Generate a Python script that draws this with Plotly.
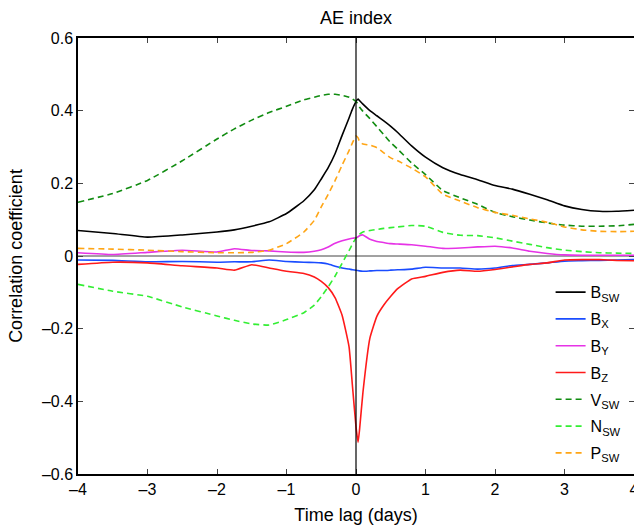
import plotly.graph_objects as go

lag = [-4, -3.5, -3, -2.5, -2, -1.75, -1.5, -1.25, -1, -0.75, -0.6, -0.5, -0.4, -0.3, -0.2,
       -0.1, -0.05, 0, 0.03, 0.05, 0.1, 0.2, 0.3, 0.4, 0.5, 0.6, 0.8, 1, 1.25, 1.5, 1.75, 2,
       2.25, 2.5, 2.75, 3, 3.25, 3.5, 3.75, 4]

b_sw = [0.070, 0.062, 0.052, 0.058, 0.066, 0.072, 0.082, 0.094, 0.117, 0.152, 0.182, 0.212,
        0.243, 0.282, 0.332, 0.380, 0.405, 0.425, 0.432, 0.428, 0.418, 0.400, 0.386, 0.372,
        0.357, 0.340, 0.303, 0.272, 0.243, 0.224, 0.210, 0.194, 0.184, 0.170, 0.155, 0.138,
        0.128, 0.123, 0.123, 0.126]
b_x = [-0.011, -0.012, -0.016, -0.015, -0.017, -0.016, -0.016, -0.011, -0.015, -0.017, -0.018,
       -0.019, -0.022, -0.028, -0.033, -0.036, -0.038, -0.039, -0.040, -0.041, -0.042, -0.041,
       -0.040, -0.040, -0.039, -0.038, -0.036, -0.031, -0.033, -0.033, -0.036, -0.033, -0.026,
       -0.023, -0.019, -0.014, -0.013, -0.012, -0.011, -0.010]
b_y = [0.009, 0.004, 0.010, 0.016, 0.011, 0.020, 0.015, 0.014, 0.011, 0.010, 0.013, 0.017,
       0.025, 0.035, 0.042, 0.047, 0.049, 0.050, 0.053, 0.056, 0.058, 0.046, 0.040, 0.037,
       0.034, 0.033, 0.031, 0.027, 0.021, 0.022, 0.025, 0.027, 0.022, 0.013, 0.007, 0.003,
       0.002, 0.002, 0.002, 0.002]
b_z = [-0.023, -0.017, -0.019, -0.027, -0.033, -0.039, -0.024, -0.033, -0.042, -0.048, -0.058,
       -0.070, -0.087, -0.115, -0.163, -0.250, -0.360, -0.470, -0.513, -0.480, -0.375, -0.226,
       -0.166, -0.135, -0.111, -0.090, -0.063, -0.056, -0.045, -0.039, -0.042, -0.037, -0.030,
       -0.023, -0.019, -0.011, -0.010, -0.010, -0.012, -0.013]
v_sw = [0.148, 0.172, 0.208, 0.262, 0.322, 0.350, 0.374, 0.395, 0.412, 0.430, 0.437, 0.442,
        0.445, 0.445, 0.442, 0.437, 0.432, 0.425, 0.418, 0.410, 0.398, 0.378, 0.356, 0.334,
        0.312, 0.294, 0.256, 0.224, 0.180, 0.160, 0.142, 0.120, 0.108, 0.099, 0.091, 0.085,
        0.082, 0.082, 0.083, 0.087]
n_sw = [-0.078, -0.097, -0.111, -0.140, -0.165, -0.177, -0.187, -0.190, -0.175, -0.156, -0.135,
        -0.112, -0.085, -0.055, -0.020, 0.015, 0.033, 0.050, 0.057, 0.060, 0.066, 0.070, 0.073,
        0.076, 0.078, 0.080, 0.084, 0.082, 0.065, 0.057, 0.056, 0.050, 0.041, 0.032, 0.023,
        0.016, 0.012, 0.009, 0.008, 0.007]
p_sw = [0.021, 0.019, 0.016, 0.012, 0.009, 0.009, 0.010, 0.016, 0.034, 0.066, 0.098, 0.135,
        0.170, 0.208, 0.250, 0.290, 0.312, 0.330, 0.325, 0.315, 0.308, 0.305, 0.298, 0.284,
        0.270, 0.262, 0.242, 0.218, 0.170, 0.151, 0.133, 0.120, 0.112, 0.102, 0.093, 0.080,
        0.072, 0.068, 0.067, 0.068]

series = [
    ("B<sub>SW</sub>", b_sw, "#000000", "solid"),
    ("B<sub>X</sub>", b_x, "#1a4cff", "solid"),
    ("B<sub>Y</sub>", b_y, "#e633e6", "solid"),
    ("B<sub>Z</sub>", b_z, "#ff1a1a", "solid"),
    ("V<sub>SW</sub>", v_sw, "#118c11", "6px,4px"),
    ("N<sub>SW</sub>", n_sw, "#33ee33", "6px,4px"),
    ("P<sub>SW</sub>", p_sw, "#ffa515", "6px,4px"),
]

fig = go.Figure()
for i, (name, vals, col, dash) in enumerate(series):
    fig.add_trace(go.Scatter(x=lag, y=vals, name=name, mode="lines",
                             legendgroup=str(i),
                             line=dict(color=col, width=1.6, dash=dash,
                                       shape="spline", smoothing=0.4)))

fig.add_shape(type="line", xref="x", yref="paper", x0=0, x1=0, y0=0, y1=1,
              line=dict(color="black", width=1.2), layer="above")
fig.add_shape(type="line", xref="paper", yref="y", x0=0, x1=1, y0=0, y1=0,
              line=dict(color="#444444", width=1), layer="below")

font = "Liberation Sans, Arial, sans-serif"
fig.update_layout(
    width=634, height=525,
    margin=dict(l=78, r=0, t=38, b=51, autoexpand=False),
    paper_bgcolor="white", plot_bgcolor="white",
    font=dict(family=font, size=16, color="black"),
    title=dict(text="AE index", x=0.5, xref="paper", y=1 - 18 / 525, yref="container",
               xanchor="center", yanchor="middle", font=dict(size=18)),
    showlegend=True,
    legend=dict(x=0.85, xanchor="left", y=0.456, yanchor="top",
                bgcolor="rgba(0,0,0,0)", font=dict(size=16),
                tracegroupgap=3, itemwidth=30),
    xaxis=dict(range=[-4, 4], tickmode="array", tickvals=[-4, -3, -2, -1, 0, 1, 2, 3, 4],
               ticktext=["\u20134", "\u20133", "\u20132", "\u20131", "0", "1", "2", "3", "4"],
               ticks="inside", ticklen=5, showline=True, linecolor="black", linewidth=1.5,
               mirror="ticks", showgrid=False, zeroline=False, automargin=False,
               ticklabeloverflow="allow",
               title=dict(text="Time lag (days)", font=dict(size=18), standoff=12),
               tickfont=dict(size=16)),
    yaxis=dict(range=[-0.6, 0.6], tickmode="array",
               tickvals=[-0.6, -0.4, -0.2, 0, 0.2, 0.4, 0.6],
               ticktext=["\u20130.6", "\u20130.4", "\u20130.2", "0", "0.2", "0.4", "0.6"],
               ticks="inside", ticklen=5, showline=True, linecolor="black", linewidth=1.5,
               mirror="ticks", showgrid=False, zeroline=False, automargin=False,
               title=dict(text="Correlation coefficient", font=dict(size=18), standoff=15),
               tickfont=dict(size=16)),
)

fig.write_html("out.html", config={"displayModeBar": False},
               post_script="document.body.style.margin='0';")
